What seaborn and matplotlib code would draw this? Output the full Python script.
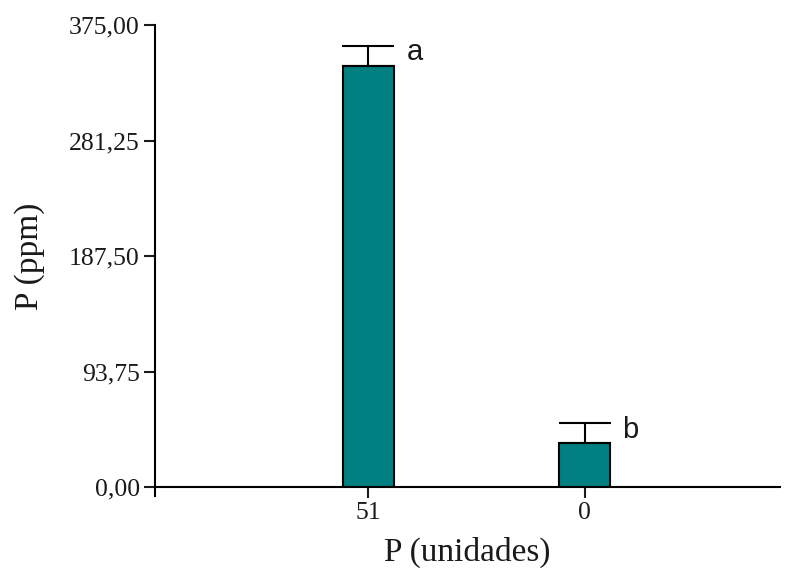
import numpy as np
import pandas as pd
import seaborn as sns
import matplotlib
from matplotlib import pyplot as plt

# data
categories = ["51", "0"]
means = [341.7, 35.5]
errors = [16.5, 16.2]
letters = ["a", "b"]
yticks = [0, 93.75, 187.5, 281.25, 375]

sns.set_style("white")
matplotlib.rcParams.update({
    "font.family": ["Liberation Serif", "DejaVu Serif"],
    "text.color": "#1a1a1a",
    "axes.labelcolor": "#1a1a1a",
    "xtick.color": "#1a1a1a",
    "ytick.color": "#1a1a1a",
})

df = pd.DataFrame({"grupo": categories, "P": means})

fig = plt.figure(figsize=(7.92, 5.71), dpi=100)
ax = fig.add_axes([0.1957, 0.1471, 0.985 - 0.1957, 0.9562 - 0.1471])

sns.barplot(data=df, x="grupo", y="P", order=categories, color="#008080",
            saturation=1, width=0.236, edgecolor="black", linewidth=1.5,
            errorbar=None, ax=ax)

# upward-only error bars
x = np.arange(len(categories))
ax.errorbar(x, means, yerr=[np.zeros(len(errors)), errors], fmt="none",
            ecolor="black", elinewidth=1.5, capsize=18.4, capthick=1.5, zorder=3)

# significance letters
for xi, m, e, lab in zip(x, means, errors, letters):
    ax.text(xi + 0.175, m + e - 5.5, lab, family=["Liberation Sans", "DejaVu Sans"],
            fontsize=21, va="center", ha="left", color="#1a1a1a")

ax.set_xlim(-0.988, 1.905)
ax.set_ylim(0, 375)
ax.set_yticks(yticks)
ax.set_yticklabels([f"{v:.2f}".replace(".", ",") for v in yticks])

ax.set_xlabel("P (unidades)", fontsize=24, labelpad=9)
ax.set_ylabel("P (ppm)", fontsize=24, labelpad=17)

ax.tick_params(axis="both", which="major", labelsize=18.5, length=8, width=1.5,
               direction="out", left=True, bottom=True, pad=3)

for side in ["top", "right"]:
    ax.spines[side].set_visible(False)
for side in ["left", "bottom"]:
    ax.spines[side].set_color("black")
    ax.spines[side].set_linewidth(1.5)
ax.spines["left"].set_bounds(-7, 375)

plt.savefig("out.png", dpi=100)
